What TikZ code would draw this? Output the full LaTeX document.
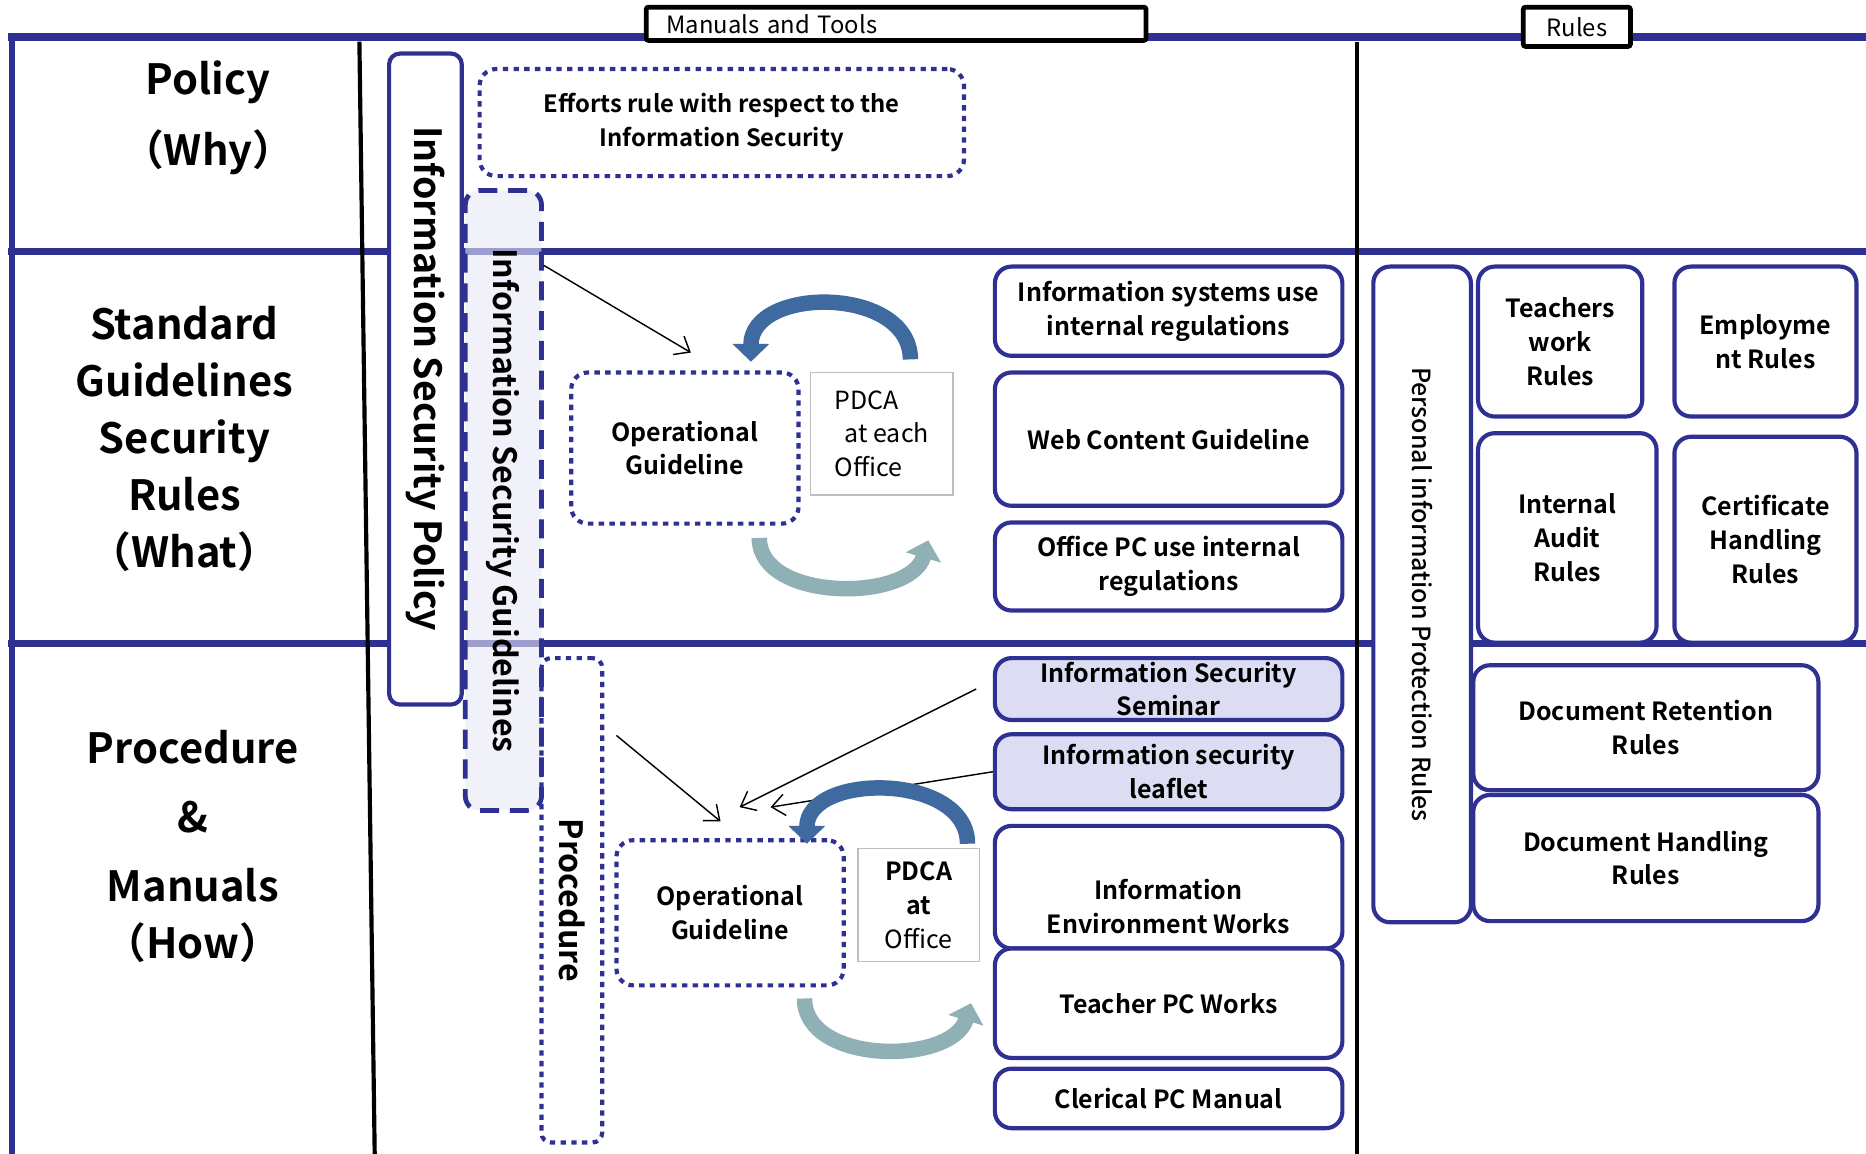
\documentclass[tikz,border=0pt]{standalone}
\usepackage{fontspec}
\setmainfont{Noto Sans CJK JP}[BoldFont={Noto Sans CJK JP Bold}]
\newfontfamily\medfont{Noto Sans CJK JP Medium}
\usepackage{tikz}
\usetikzlibrary{arrows.meta}
\definecolor{isblue}{RGB}{46,49,146}
\definecolor{lav}{RGB}{232,232,246}
\definecolor{semfill}{RGB}{220,221,242}
\definecolor{pdcagray}{RGB}{190,190,190}
\definecolor{arcdark}{RGB}{62,106,160}
\definecolor{arclight}{RGB}{143,176,180}
\newcommand{\bigtxt}{\fontsize{35}{48}\selectfont\bfseries}
\newcommand{\boxtxt}{\fontsize{21}{28.5}\selectfont\bfseries}
\newcommand{\plaintxt}{\fontsize{21}{28.5}\selectfont}

\begin{document}
\begin{tikzpicture}[x=1pt,y=-1pt]
    \tikzstyle{every node}=[inner sep=0pt,align=center];
    \tikzstyle{rulebox}=[draw=isblue,line width=3.5pt,rounded corners=14pt,fill=white,font=\boxtxt];
    \tikzstyle{dotbox}=[draw=isblue,line width=3.5pt,dash pattern=on 4.5pt off 4.5pt,rounded corners=14pt,fill=white,font=\boxtxt];
    \tikzstyle{headbox}=[draw,line width=4pt,rounded corners=2pt,fill=white,font=\fontsize{20}{24}\selectfont];
    \tikzstyle{pdcabox}=[draw=pdcagray,line width=1.5pt,fill=white];
    \tikzstyle{feed}=[-{Straight Barb[length=11pt,width=18pt]},line width=1.2pt];
    \tikzstyle{pdcaup}=[arcdark,line width=13pt,-{Triangle[length=15pt,width=30pt]}];
    \tikzstyle{pdcadown}=[arclight,line width=13pt,-{Triangle[length=15pt,width=30pt]}];

    \useasboundingbox (0,0) rectangle (1568,969);

    % frame
    \draw[isblue,line width=6.5pt] (7,31) -- (1580,31);
    \draw[isblue,line width=6pt] (7,211) -- (1580,211);
    \draw[isblue,line width=6pt] (7,541) -- (1580,541);
    \draw[isblue,line width=5pt] (10,28) -- (10,980);
    \draw[line width=3.5pt] (302,35) -- (315,980);
    \draw[line width=3.5pt] (1140,35) -- (1140,980);

    \node[headbox,minimum width=420pt,minimum height=28pt,text width=386pt,align=left] (mt) at (753,20) {Manuals and Tools};
    \node[headbox,minimum width=90pt,minimum height=33pt] (rh) at (1325,22.5) {Rules};

    % row titles
    \node[font=\fontsize{35}{59}\selectfont\bfseries] (why) at (175,99) {Policy\\（Why）};
    \node[font=\bigtxt] (what) at (155,369) {Standard\\Guidelines\\Security\\Rules\\（What）};
    \node[font=\bigtxt] (how) at (162,711) {Procedure\\[10pt]\&\\[10pt]Manuals\\（How）};

    % manuals and tools
    \node[rulebox,minimum width=61pt,minimum height=547pt,rounded corners=9pt,font=\fontsize{31.5}{36}\selectfont\bfseries] (isp) at (357.5,318.5) {\rotatebox{-90}{Information Security Policy}};
    \node[draw=isblue,line width=4pt,dash pattern=on 16pt off 9pt,rounded corners=12pt,fill=lav,fill opacity=0.6,text opacity=1,minimum width=64pt,minimum height=521pt,font=\fontsize{27}{32}\selectfont\bfseries] (isg) at (423,420.5) {\rotatebox{-90}{Information Security Guidelines}};
    \node[dotbox,fill=none,minimum width=51pt,minimum height=407pt,rounded corners=8pt,font=\fontsize{27}{32}\selectfont\bfseries] (proc) at (480.5,756.5) {\rotatebox{-90}{Procedure}};
    \node[dotbox,minimum width=407pt,minimum height=90pt,font=\fontsize{20}{28}\selectfont\bfseries] (eff) at (606.5,103) {Efforts rule with respect to the\\Information Security};

    \node[dotbox,minimum width=191pt,minimum height=127pt] (og1) at (575.5,376.5) {Operational\\Guideline};
    \node[pdcabox,minimum width=120pt,minimum height=103pt,align=left,font=\plaintxt] (pd1) at (741,364.5) {PDCA\\\hspace*{0.4em}at each\\Office};
    \node[dotbox,minimum width=191pt,minimum height=122pt] (og2) at (613.5,767) {Operational\\Guideline};
    \node[pdcabox,minimum width=102pt,minimum height=95pt,font=\plaintxt] (pd2) at (772,760.5) {\textbf{PDCA}\\\textbf{at}\\Office};

    \node[rulebox,minimum width=292pt,minimum height=75pt] (sys) at (982,261.5) {Information systems use\\internal regulations};
    \node[rulebox,minimum width=292pt,minimum height=112pt] (web) at (982,369) {Web Content Guideline};
    \node[rulebox,minimum width=292pt,minimum height=74pt] (opc) at (982,476) {Office PC use internal\\regulations};
    \node[rulebox,fill=semfill,minimum width=292pt,minimum height=52pt] (sem) at (982,579) {Information Security\\Seminar};
    \node[rulebox,fill=semfill,minimum width=292pt,minimum height=63pt] (leaf) at (982,648.5) {Information security\\leaflet};
    \node[rulebox,minimum width=292pt,minimum height=103pt,label={[font=\boxtxt,yshift=-16pt]center:Information\\Environment Works}] (env) at (982,745.5) {};
    \node[rulebox,minimum width=292pt,minimum height=92pt] (tpc) at (982,843) {Teacher PC Works};
    \node[rulebox,minimum width=292pt,minimum height=50pt] (cpc) at (982,923) {Clerical PC Manual};

    % rules
    \node[rulebox,minimum width=82pt,minimum height=551pt,font=\fontsize{21}{28.5}\medfont] (pip) at (1195,499.5) {\rotatebox{-90}{Personal information Protection Rules}};
    \node[rulebox,minimum width=138pt,minimum height=126pt] (twr) at (1311,287) {Teachers\\work\\Rules};
    \node[rulebox,minimum width=153pt,minimum height=126pt] (emp) at (1483.5,287) {Employme\\nt Rules};
    \node[rulebox,minimum width=150pt,minimum height=176pt] (iar) at (1317,452) {Internal\\Audit\\Rules};
    \node[rulebox,minimum width=153pt,minimum height=173pt] (chr) at (1483.5,453.5) {Certificate\\Handling\\Rules};
    \node[rulebox,minimum width=290pt,minimum height=105pt] (drr) at (1383,611.5) {Document Retention\\Rules};
    \node[rulebox,minimum width=290pt,minimum height=106pt] (dhr) at (1383,721) {Document Handling\\Rules};

    % links
    \coordinate (pin) at (518,618);
    \draw[feed] ([yshift=-65pt]isg.north east) -- ([xshift=5pt,yshift=15pt]og1.north);
    \draw[feed] (pin) -- ([xshift=-8pt,yshift=14pt]og2.north);
    \draw[feed] ([xshift=-14pt]sem.west) -- ([xshift=8pt,yshift=26pt]og2.north);
    \draw[feed] (leaf.west) -- ([xshift=34pt,yshift=26pt]og2.north);

    % pdca cycles
    \draw[pdcaup] (765,302) .. controls (765,240) and (631,240) .. (631,304);
    \draw[pdcadown] (638,452) .. controls (638,506) and (765,506) .. (780,454);
    \draw[pdcaup] (813,709) .. controls (813,649) and (678,649) .. (678,709);
    \draw[pdcadown] (676,839) .. controls (676,895) and (800,895) .. (816,843);
\end{tikzpicture}
\end{document}
